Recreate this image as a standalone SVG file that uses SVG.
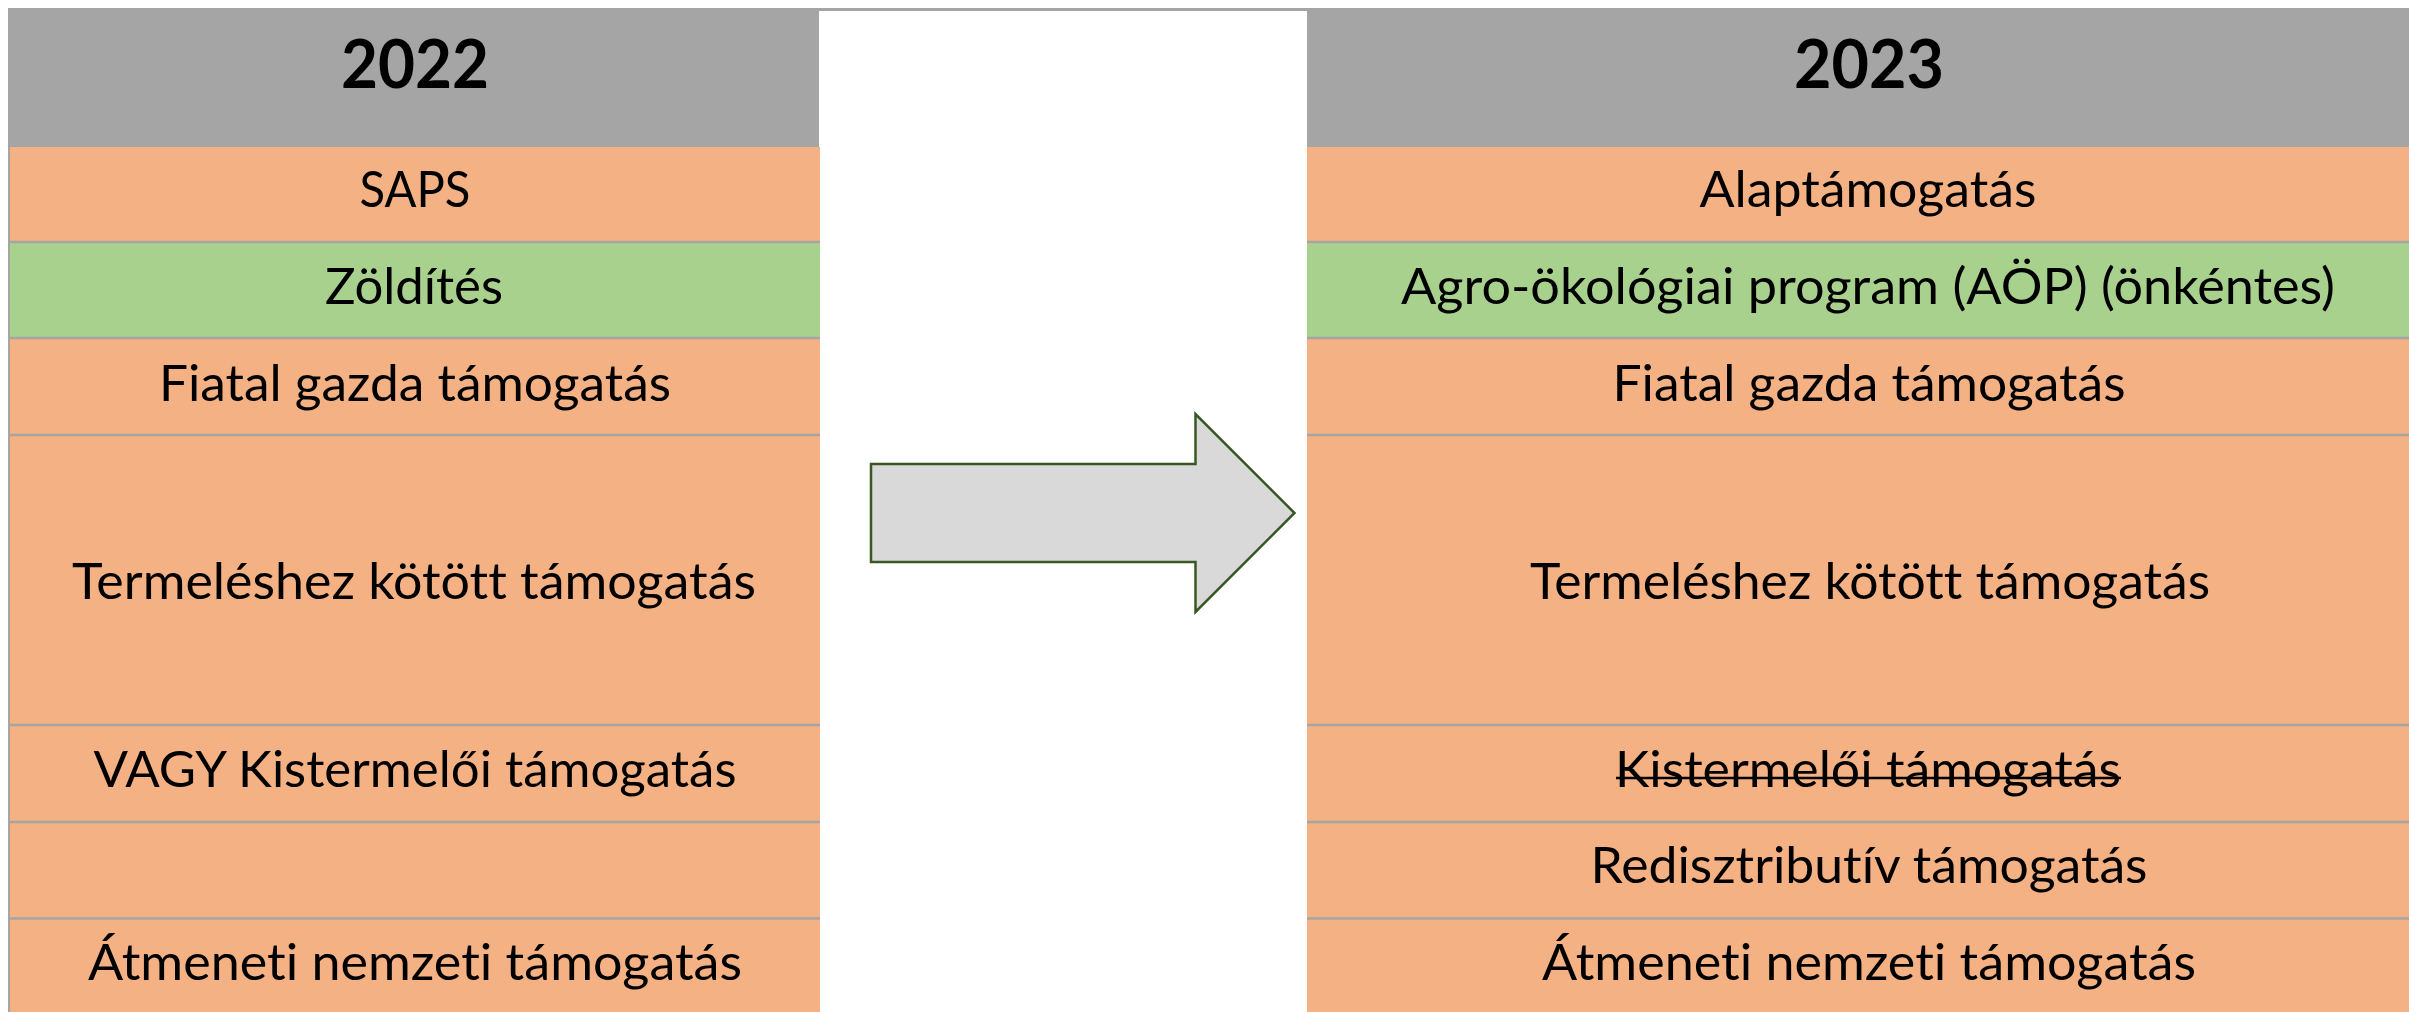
<svg xmlns="http://www.w3.org/2000/svg" width="2409" height="1012" viewBox="0 0 2409 1012">
<style>
.hdr{fill:#A5A5A5}
.org{fill:#F4B183}
.grn{fill:#A9D18E}
.sep{stroke:#A5A5A5;stroke-width:2.5}
.t{font-family:Lato,"Open Sans","Liberation Sans",sans-serif;font-size:50px;fill:#000;text-anchor:middle;font-variant-ligatures:none;font-feature-settings:"liga" 0,"clig" 0}
.h{font-family:Lato,"Open Sans","Liberation Sans",sans-serif;font-size:66px;font-weight:bold;fill:#000;text-anchor:middle}
.strike{stroke:#000;stroke-width:2.5}
.arrow{fill:#D9D9D9;stroke:#385723;stroke-width:2.5;stroke-linejoin:miter}
</style>
<rect x="0" y="0" width="2409" height="1012" fill="#FFFFFF"/>
<rect x="8" y="8" width="2401" height="3" fill="#A5A5A5"/>

<g id="left-table">
  <g id="header-2022">
    <rect class="hdr" x="8" y="8" width="811" height="139"/>
    <text class="h" x="415" y="88" textLength="148" lengthAdjust="spacingAndGlyphs">2022</text>
  </g>
  <g id="l-saps">
    <rect class="org" x="8" y="147" width="812" height="95"/>
    <text class="t" x="415" y="207" textLength="111" lengthAdjust="spacingAndGlyphs">SAPS</text>
  </g>
  <g id="l-zolditest">
    <rect class="grn" x="8" y="242" width="812" height="96"/>
    <text class="t" x="414" y="304" textLength="178" lengthAdjust="spacingAndGlyphs">Zöldítés</text>
  </g>
  <g id="l-fiatal">
    <rect class="org" x="8" y="338" width="812" height="97"/>
    <text class="t" x="415" y="401" textLength="512" lengthAdjust="spacingAndGlyphs">Fiatal gazda támogatás</text>
  </g>
  <g id="l-termeleshez">
    <rect class="org" x="8" y="435" width="812" height="290"/>
    <text class="t" x="414" y="599" textLength="684" lengthAdjust="spacingAndGlyphs">Termeléshez kötött támogatás</text>
  </g>
  <g id="l-vagy">
    <rect class="org" x="8" y="725" width="812" height="97"/>
    <text class="t" x="415" y="787" textLength="643" lengthAdjust="spacingAndGlyphs">VAGY Kistermelői támogatás</text>
  </g>
  <g id="l-empty">
    <rect class="org" x="8" y="822" width="812" height="97"/>
  </g>
  <g id="l-atmeneti">
    <rect class="org" x="8" y="919" width="812" height="93"/>
    <text class="t" x="415" y="980" textLength="654" lengthAdjust="spacingAndGlyphs">Átmeneti nemzeti támogatás</text>
  </g>
  <line class="sep" x1="8" y1="242" x2="820" y2="242"/>
  <line class="sep" x1="8" y1="338" x2="820" y2="338"/>
  <line class="sep" x1="8" y1="435" x2="820" y2="435"/>
  <line class="sep" x1="8" y1="725" x2="820" y2="725"/>
  <line class="sep" x1="8" y1="822" x2="820" y2="822"/>
  <line class="sep" x1="8" y1="918.5" x2="820" y2="918.5"/>
  <line x1="9" y1="147" x2="9" y2="1012" stroke="#A5A5A5" stroke-width="2"/>
</g>

<g id="right-table">
  <g id="header-2023">
    <rect class="hdr" x="1307" y="8" width="1102" height="139"/>
    <text class="h" x="1869" y="88" textLength="150" lengthAdjust="spacingAndGlyphs">2023</text>
  </g>
  <g id="r-alap">
    <rect class="org" x="1307" y="147" width="1102" height="95"/>
    <text class="t" x="1868" y="207" textLength="337" lengthAdjust="spacingAndGlyphs">Alaptámogatás</text>
  </g>
  <g id="r-aop">
    <rect class="grn" x="1307" y="242" width="1102" height="96"/>
    <text class="t" x="1868" y="304" textLength="934" lengthAdjust="spacingAndGlyphs">Agro-ökológiai program (AÖP) (önkéntes)</text>
  </g>
  <g id="r-fiatal">
    <rect class="org" x="1307" y="338" width="1102" height="97"/>
    <text class="t" x="1869" y="401" textLength="513" lengthAdjust="spacingAndGlyphs">Fiatal gazda támogatás</text>
  </g>
  <g id="r-termeleshez">
    <rect class="org" x="1307" y="435" width="1102" height="290"/>
    <text class="t" x="1870" y="599" textLength="680" lengthAdjust="spacingAndGlyphs">Termeléshez kötött támogatás</text>
  </g>
  <g id="r-kistermeloi">
    <rect class="org" x="1307" y="725" width="1102" height="97"/>
    <text class="t" x="1868" y="787" textLength="506" lengthAdjust="spacingAndGlyphs">Kistermelői támogatás</text>
    <line class="strike" x1="1616" y1="778" x2="2121" y2="778"/>
  </g>
  <g id="r-redisztributiv">
    <rect class="org" x="1307" y="822" width="1102" height="97"/>
    <text class="t" x="1869" y="883" textLength="557" lengthAdjust="spacingAndGlyphs">Redisztributív támogatás</text>
  </g>
  <g id="r-atmeneti">
    <rect class="org" x="1307" y="919" width="1102" height="93"/>
    <text class="t" x="1869" y="980" textLength="654" lengthAdjust="spacingAndGlyphs">Átmeneti nemzeti támogatás</text>
  </g>
  <line class="sep" x1="1307" y1="242" x2="2409" y2="242"/>
  <line class="sep" x1="1307" y1="338" x2="2409" y2="338"/>
  <line class="sep" x1="1307" y1="435" x2="2409" y2="435"/>
  <line class="sep" x1="1307" y1="725" x2="2409" y2="725"/>
  <line class="sep" x1="1307" y1="822" x2="2409" y2="822"/>
  <line class="sep" x1="1307" y1="918.5" x2="2409" y2="918.5"/>
</g>

<g id="connectors">
  <polygon class="arrow" points="871,464 1195.5,464 1195.5,414 1294.5,513 1195.5,612 1195.5,562 871,562"/>
</g>
</svg>
